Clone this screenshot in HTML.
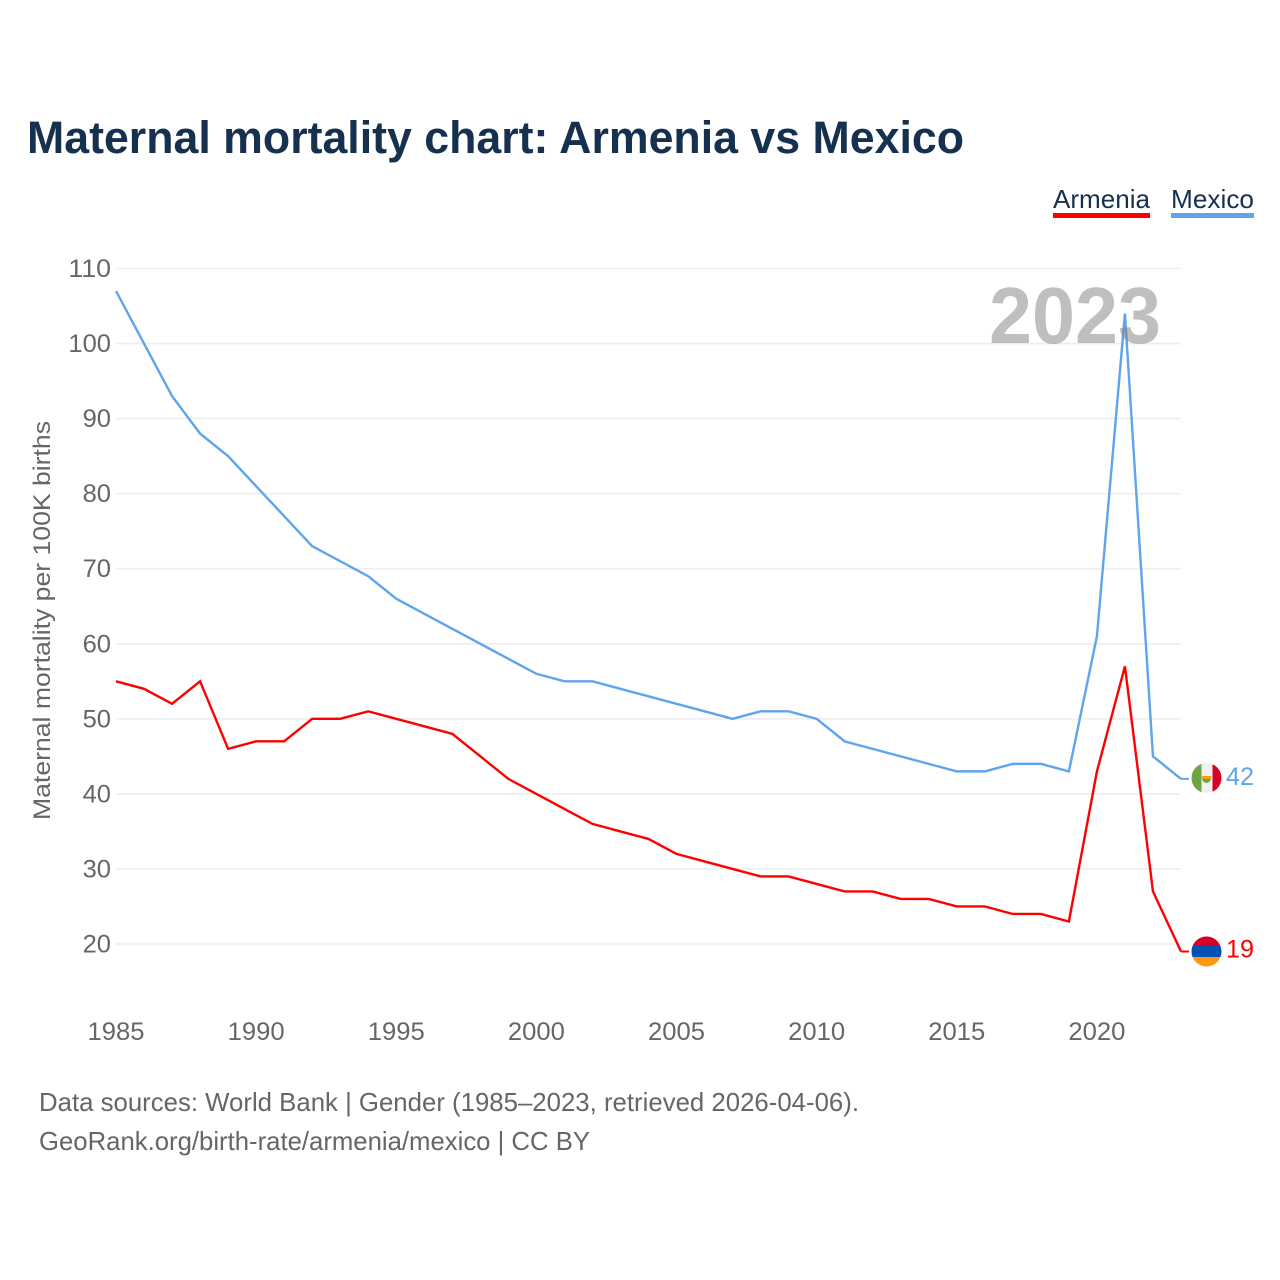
<!DOCTYPE html>
<html lang="en">
<head>
<meta charset="utf-8">
<title>Maternal mortality chart: Armenia vs Mexico</title>
<style>
html,body{margin:0;padding:0;background:#fff;width:1280px;height:1280px;overflow:hidden}
svg{display:block}
text{font-family:"Liberation Sans",sans-serif}
</style>
</head>
<body>
<svg id="chart" xmlns="http://www.w3.org/2000/svg" width="1280" height="1280" viewBox="0 0 1280 1280">
  <defs>
    <clipPath id="clip-mx"><circle cx="1206.5" cy="778" r="15"/></clipPath>
    <clipPath id="clip-am"><circle cx="1206.5" cy="951.5" r="15"/></clipPath>
  </defs>
  <text x="27" y="153" font-size="45" font-weight="700" fill="#16304f" textLength="937" lengthAdjust="spacingAndGlyphs">Maternal mortality chart: Armenia vs Mexico</text>

  <g>
    <g>
      <text x="1053" y="208" font-size="26" fill="#16304f" textLength="97" lengthAdjust="spacingAndGlyphs">Armenia</text>
      <rect x="1053" y="213" width="97" height="5" fill="#ff0000"/>
    </g>
    <g>
      <text x="1171" y="208" font-size="26" fill="#16304f" textLength="83" lengthAdjust="spacingAndGlyphs">Mexico</text>
      <rect x="1171" y="213" width="83" height="5" fill="#5ea5ec"/>
    </g>
  </g>

  <g id="grid"></g>
  <g id="yticks"></g>
  <g id="xticks"></g>
  <text transform="translate(50,620.5) rotate(-90)" text-anchor="middle" font-size="24.5" fill="#666666" textLength="399" lengthAdjust="spacingAndGlyphs">Maternal mortality per 100K births</text>

  <g id="series"></g>

  <text x="989" y="343" font-size="80" font-weight="700" fill="#808080" fill-opacity="0.5" textLength="172" lengthAdjust="spacingAndGlyphs">2023</text>

  <g id="flag-mexico" clip-path="url(#clip-mx)">
    <rect x="1191" y="763" width="31" height="31" fill="#f0f0f0"/>
    <rect x="1191" y="763" width="10.5" height="31" fill="#6da544"/>
    <rect x="1212.5" y="763" width="10" height="31" fill="#d80027"/>
    <path d="M1202 778 a4.5 5 0 0 0 9 0z" fill="#6da544"/>
    <path d="M1201.5 776 h10 l-1.5 3 h-7z" fill="#ff9811"/>
  </g>
  <g id="flag-armenia" clip-path="url(#clip-am)">
    <rect x="1191" y="936" width="31" height="11" fill="#d80027"/>
    <rect x="1191" y="946" width="31" height="11" fill="#0052b4"/>
    <rect x="1191" y="957" width="31" height="11" fill="#ff9811"/>
  </g>

  <g id="endlabels"></g>

  <text x="39" y="1111" font-size="26" fill="#666666" textLength="820" lengthAdjust="spacingAndGlyphs">Data sources: World Bank | Gender (1985–2023, retrieved 2026-04-06).</text>
  <text x="39" y="1150" font-size="26" fill="#666666" textLength="551" lengthAdjust="spacingAndGlyphs">GeoRank.org/birth-rate/armenia/mexico | CC BY</text>
</svg>
<script>
const firstYear = 1985;
const lastYear = 2023;
const xTickLabels = [1985, 1990, 1995, 2000, 2005, 2010, 2015, 2020];
const yTickLabels = [20, 30, 40, 50, 60, 70, 80, 90, 100, 110];
const mexicoValues = [107,100,93,88,85,81,77,73,71,69,66,64,62,60,58,56,55,55,54,53,52,51,50,51,51,50,47,46,45,44,43,43,44,44,43,61,104,45,42];
const armeniaValues = [55,54,52,55,46,47,47,50,50,51,50,49,48,45,42,40,38,36,35,34,32,31,30,29,29,28,27,27,26,26,25,25,24,24,23,43,57,27,19];

const NS = 'http://www.w3.org/2000/svg';
function xScale(year) { return 116 + (year - firstYear) * (1181 - 116) / (lastYear - firstYear); }
function yScale(v) { return 944 - (v - 20) * (944 - 268.5) / 90; }

const grid = document.getElementById('grid');
const yticks = document.getElementById('yticks');
yTickLabels.forEach(function (v) {
  const ln = document.createElementNS(NS, 'line');
  
  
  ln.setAttribute('x1', 116);
  ln.setAttribute('x2', 1181);
  ln.setAttribute('y1', yScale(v));
  ln.setAttribute('y2', yScale(v));
  ln.setAttribute('stroke', '#eeeeee');
  ln.setAttribute('stroke-width', '1.6');
  grid.appendChild(ln);
  const t = document.createElementNS(NS, 'text');
  
  
  t.setAttribute('x', 111);
  t.setAttribute('y', yScale(v) + 8.5);
  t.setAttribute('text-anchor', 'end');
  t.setAttribute('font-size', '25');
  t.setAttribute('fill', '#666666');
  t.setAttribute('textLength', String(v).length * 14.2);
  t.setAttribute('lengthAdjust', 'spacingAndGlyphs');
  t.textContent = v;
  yticks.appendChild(t);
});

const xticks = document.getElementById('xticks');
xTickLabels.forEach(function (yr) {
  const t = document.createElementNS(NS, 'text');
  
  
  t.setAttribute('x', xScale(yr));
  t.setAttribute('y', 1040);
  t.setAttribute('text-anchor', 'middle');
  t.setAttribute('font-size', '25');
  t.setAttribute('fill', '#666666');
  t.setAttribute('textLength', '57');
  t.setAttribute('lengthAdjust', 'spacingAndGlyphs');
  t.textContent = yr;
  xticks.appendChild(t);
});

function pointsFor(values) {
  return values.map(function (v, i) { return xScale(firstYear + i).toFixed(2) + ',' + yScale(v).toFixed(2); }).join(' ');
}

const series = document.getElementById('series');

const armeniaLine = document.createElementNS(NS, 'polyline');


armeniaLine.setAttribute('points', pointsFor(armeniaValues));
armeniaLine.setAttribute('fill', 'none');
armeniaLine.setAttribute('stroke', '#ff0000');
armeniaLine.setAttribute('stroke-width', '2.4');
series.appendChild(armeniaLine);

const mexicoLine = document.createElementNS(NS, 'polyline');


mexicoLine.setAttribute('points', pointsFor(mexicoValues));
mexicoLine.setAttribute('fill', 'none');
mexicoLine.setAttribute('stroke', '#5ea5ec');
mexicoLine.setAttribute('stroke-width', '2.4');
series.appendChild(mexicoLine);

const lastMexico = mexicoValues[mexicoValues.length - 1];
const lastArmenia = armeniaValues[armeniaValues.length - 1];

const mexicoLeader = document.createElementNS(NS, 'line');


mexicoLeader.setAttribute('x1', xScale(lastYear));
mexicoLeader.setAttribute('x2', xScale(lastYear) + 8);
mexicoLeader.setAttribute('y1', yScale(lastMexico));
mexicoLeader.setAttribute('y2', yScale(lastMexico));
mexicoLeader.setAttribute('stroke', '#5ea5ec');
mexicoLeader.setAttribute('stroke-width', '2');
series.appendChild(mexicoLeader);

const armeniaLeader = document.createElementNS(NS, 'line');


armeniaLeader.setAttribute('x1', xScale(lastYear));
armeniaLeader.setAttribute('x2', xScale(lastYear) + 8);
armeniaLeader.setAttribute('y1', yScale(lastArmenia));
armeniaLeader.setAttribute('y2', yScale(lastArmenia));
armeniaLeader.setAttribute('stroke', '#ff0000');
armeniaLeader.setAttribute('stroke-width', '2');
series.appendChild(armeniaLeader);

const endlabels = document.getElementById('endlabels');

const mexicoEnd = document.createElementNS(NS, 'text');


mexicoEnd.setAttribute('x', 1226);
mexicoEnd.setAttribute('y', yScale(lastMexico) + 6);
mexicoEnd.setAttribute('font-size', '25');
mexicoEnd.setAttribute('fill', '#5ea5ec');
mexicoEnd.setAttribute('textLength', '28');
mexicoEnd.setAttribute('lengthAdjust', 'spacingAndGlyphs');
mexicoEnd.textContent = lastMexico;
endlabels.appendChild(mexicoEnd);

const armeniaEnd = document.createElementNS(NS, 'text');


armeniaEnd.setAttribute('x', 1226);
armeniaEnd.setAttribute('y', yScale(lastArmenia) + 6);
armeniaEnd.setAttribute('font-size', '25');
armeniaEnd.setAttribute('fill', '#ff0000');
armeniaEnd.setAttribute('textLength', '28');
armeniaEnd.setAttribute('lengthAdjust', 'spacingAndGlyphs');
armeniaEnd.textContent = lastArmenia;
endlabels.appendChild(armeniaEnd);
</script>
</body>
</html>
